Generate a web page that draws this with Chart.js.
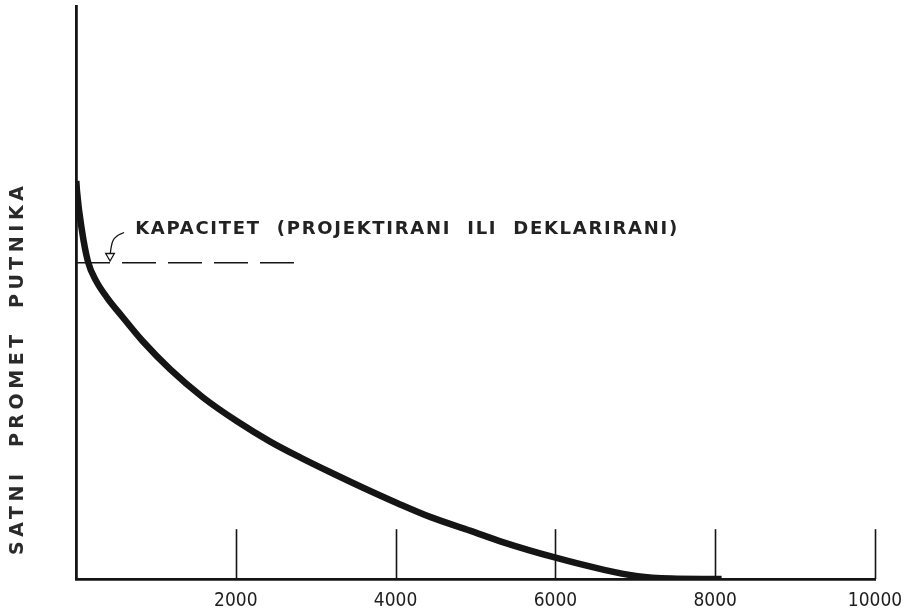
<!DOCTYPE html>
<html>
<head>
<meta charset="utf-8">
<script src="https://cdn.jsdelivr.net/npm/chart.js@4.4.1/dist/chart.umd.min.js"></script>
<style>
  html, body { margin: 0; padding: 0; background: #fff; }
  #wrap { width: 904px; height: 614px; }
</style>
</head>
<body>
<div id="wrap"><canvas id="curveChart" width="904" height="614"></canvas></div>
<script>
// x axis ticks (passengers) and labels
const xTicks = [0, 2000, 4000, 6000, 8000, 10000];
const xTickLabels = ['', '2000', '4000', '6000', '8000', '10000'];

// main curve (y in relative units 0..100)
const curveX = [4, 12, 75, 150, 250, 390, 580, 830, 1180, 1590, 2020, 2430, 2810, 3190, 3600, 4030, 4440, 4940, 5350, 5980, 6610, 7030, 7450, 7830, 8080];
const curveY = [69.5, 67.8, 60.8, 55.4, 52.1, 49.1, 45.8, 41.6, 36.6, 31.7, 27.5, 24.0, 21.2, 18.6, 15.9, 13.2, 10.8, 8.4, 6.4, 3.8, 1.6, 0.5, 0.07, 0, 0];

// capacity level (dashed)
const capacityX = [0, 2740];
const capacityY = [55.2, 55.2];

// leader arrow from the note to the dashed line
const arrowX = [602, 514, 464, 439, 426];
const arrowY = [60.5, 59.9, 59.1, 57.8, 56.4];

const noteText = 'KAPACITET  (PROJEKTIRANI  ILI  DEKLARIRANI)';
const noteStartX = 740;
const noteEndX = 7524;
const noteY = 61.1;
const yTitle = 'SATNI  PROMET  PUTNIKA';
const yTitleFrom = 4.2;
const yTitleTo = 68.6;
const tickMarkHeight = 8.7;

const ink = '#151515';

function toPoints(xs, ys) {
  return xs.map((x, i) => ({ x: x, y: ys[i] }));
}

// spread letters so the text fills the given width
function fitSpacing(ctx, text, width) {
  ctx.letterSpacing = '0px';
  const w = ctx.measureText(text).width;
  ctx.letterSpacing = Math.max(0, (width - w) / (text.length - 1)) + 'px';
}

// short vertical tick marks above the x axis, plus the texts
const drawingExtras = {
  id: 'drawingExtras',
  afterDatasetsDraw(chart) {
    const ctx = chart.ctx;
    const xs = chart.scales.x;
    const ys = chart.scales.y;
    const area = chart.chartArea;

    ctx.save();
    ctx.strokeStyle = ink;
    ctx.lineWidth = 1.6;
    xTicks.forEach(v => {
      if (v === 0) return;
      const px = Math.round(xs.getPixelForValue(v)) + 0.5;
      ctx.beginPath();
      ctx.moveTo(px, area.bottom);
      ctx.lineTo(px, ys.getPixelForValue(tickMarkHeight));
      ctx.stroke();
    });

    ctx.fillStyle = '#222';
    ctx.font = '600 18px "DejaVu Sans"';
    ctx.textAlign = 'left';
    ctx.textBaseline = 'middle';
    const nx0 = xs.getPixelForValue(noteStartX);
    fitSpacing(ctx, noteText, xs.getPixelForValue(noteEndX) - nx0);
    ctx.fillText(noteText, nx0, ys.getPixelForValue(noteY));

    const y0 = ys.getPixelForValue(yTitleFrom);
    const y1 = ys.getPixelForValue(yTitleTo);
    ctx.translate(ys.left + 18, y0);
    ctx.rotate(-Math.PI / 2);
    ctx.fillStyle = '#2a2a2a';
    ctx.font = '600 19px "DejaVu Sans"';
    fitSpacing(ctx, yTitle, y0 - y1);
    ctx.fillText(yTitle, 0, 0);
    ctx.restore();
  }
};

const ctx = document.getElementById('curveChart');
new Chart(ctx, {
  type: 'line',
  data: {
    datasets: [
      {
        label: 'promet',
        data: toPoints(curveX, curveY),
        borderColor: ink,
        borderWidth: 6.5,
        cubicInterpolationMode: 'monotone',
        pointRadius: 0,
        fill: false
      },
      {
        label: 'kapacitet',
        data: toPoints(capacityX, capacityY),
        borderColor: ink,
        borderWidth: 1.5,
        borderDash: [34, 12],
        pointRadius: 0,
        fill: false
      },
      {
        label: 'strelica',
        data: toPoints(arrowX, arrowY),
        borderColor: ink,
        borderWidth: 1.3,
        tension: 0.4,
        pointRadius: [0, 0, 0, 0, 5],
        pointStyle: 'triangle',
        pointRotation: 180,
        pointBackgroundColor: '#fff',
        pointBorderColor: ink,
        pointBorderWidth: 1.3,
        fill: false
      }
    ]
  },
  options: {
    responsive: false,
    animation: false,
    layout: { padding: { left: 0, top: 5, right: 29, bottom: 0 } },
    plugins: {
      legend: { display: false },
      tooltip: { enabled: false }
    },
    scales: {
      x: {
        type: 'linear',
        min: 0,
        max: 10000,
        afterBuildTicks: scale => { scale.ticks = xTicks.map(v => ({ value: v })); },
        afterFit: scale => {
          scale.height = 35;
          scale.paddingLeft = 0;
          scale.paddingRight = 0;
        },
        grid: { display: false, drawTicks: false },
        border: { display: true, color: ink, width: 2.8 },
        ticks: {
          padding: 11,
          color: '#1e1e1e',
          font: { family: '"DejaVu Sans Condensed", "DejaVu Sans"', size: 19 },
          maxRotation: 0,
          callback: (v) => xTickLabels[xTicks.indexOf(v)]
        }
      },
      y: {
        type: 'linear',
        min: 0,
        max: 100,
        afterFit: scale => {
          scale.width = 76;
          scale.paddingTop = 0;
          scale.paddingBottom = 0;
        },
        grid: { display: false, drawTicks: false },
        border: { display: true, color: ink, width: 2.8 },
        ticks: { display: false }
      }
    }
  },
  plugins: [drawingExtras]
});
</script>
</body>
</html>
